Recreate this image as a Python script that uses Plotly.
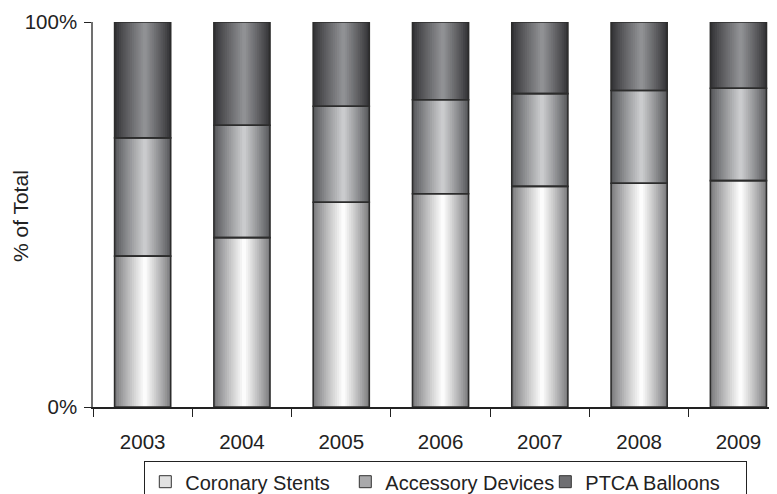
import plotly.graph_objects as go

# ---- data (percent of total) ----
years = ["2003", "2004", "2005", "2006", "2007", "2008", "2009"]
coronary_stents = [39.2, 44.0, 53.2, 55.4, 57.3, 58.1, 58.8]
accessory_devices = [30.7, 29.2, 24.9, 24.4, 24.1, 24.1, 24.0]
ptca_balloons = [30.1, 26.8, 21.9, 20.2, 18.6, 17.8, 17.2]
y_tick_values = [0, 100]
y_tick_labels = ["0%", "100%"]

FONT = "Liberation Sans, Arial, sans-serif"
TXT = "#222222"

# styles: (edge rgb, peak rgb, legend swatch)
styles = {
    "Coronary Stents": ((124, 124, 126), (252, 252, 252), "#e2e2e2"),
    "Accessory Devices": ((88, 89, 92), (202, 203, 205), "#a9a9ab"),
    "PTCA Balloons": ((52, 52, 55), (144, 145, 148), "#6f6f72"),
}

series = [
    ("Coronary Stents", coronary_stents),
    ("Accessory Devices", accessory_devices),
    ("PTCA Balloons", ptca_balloons),
]

# cumulative bases
bases = []
running = [0.0] * len(years)
for _, vals in series:
    bases.append(list(running))
    running = [r + v for r, v in zip(running, vals)]

W = 0.565
N = 14


def mix(e, p, t):
    return "rgb(%d,%d,%d)" % tuple(round(a + (b - a) * t) for a, b in zip(e, p))


fig = go.Figure()

# gradient fill layers
for (name, vals), base in zip(series, bases):
    edge, peak, _ = styles[name]
    for k in range(N):
        frac = k / (N - 1)
        wk = W * (1 - k / N)
        shift = 0.04 * W * (k / N)
        t = frac ** 0.9
        fig.add_trace(go.Bar(
            x=years, y=vals, base=base,
            width=wk, offset=-wk / 2 + shift,
            marker=dict(color=mix(edge, peak, t), line=dict(width=0)),
            showlegend=False, hoverinfo="skip",
        ))

# outlines
for (name, vals), base in zip(series, bases):
    fig.add_trace(go.Bar(
        x=years, y=vals, base=base, width=W, offset=-W / 2,
        marker=dict(color="rgba(0,0,0,0)", line=dict(color="#2c2c2c", width=1.6)),
        showlegend=False, hoverinfo="skip",
    ))

# legend entries
for name, _ in series:
    fig.add_trace(go.Bar(
        x=[None], y=[None], name=name,
        marker=dict(color=styles[name][2], line=dict(color="#333333", width=1)),
        showlegend=True,
    ))

fig.update_layout(
    width=777, height=494,
    margin=dict(l=85, r=0, t=14, b=95, autoexpand=False),
    paper_bgcolor="white", plot_bgcolor="white",
    barmode="overlay",
    font=dict(family=FONT, color=TXT, size=20.5),
    showlegend=True,
    legend=dict(
        orientation="h", x=0.0737, xanchor="left", y=-0.140, yanchor="top",
        bordercolor=TXT, borderwidth=1.3, bgcolor="white",
        font=dict(family=FONT, size=20, color=TXT),
        traceorder="normal", itemwidth=30,
        entrywidth=155, entrywidthmode="pixels",
    ),
    xaxis=dict(
        type="category", range=[-0.5, 6.469],
        showline=True, linecolor=TXT, linewidth=1.5,
        ticks="outside", tickson="boundaries", ticklen=8, tickwidth=1.3, tickcolor=TXT,
        showgrid=False, zeroline=False,
        tickfont=dict(family=FONT, size=20.5, color=TXT),
        ticklabelstandoff=16,
    ),
    yaxis=dict(
        range=[0, 100], tickvals=y_tick_values, ticktext=y_tick_labels,
        ticks="outside", ticklen=7, tickwidth=1.3, tickcolor=TXT,
        showgrid=True, gridcolor=TXT, gridwidth=1.5, zeroline=False,
        showline=True, linecolor="#707070", linewidth=1.5,
        tickfont=dict(family=FONT, size=20.5, color=TXT),
        ticklabelstandoff=3,
    ),
    annotations=[dict(
        text="% of Total", textangle=-90, xref="paper", yref="paper",
        x=-0.1055, y=0.496, xanchor="center", yanchor="middle", showarrow=False,
        font=dict(family=FONT, size=21, color=TXT),
    )],
)

fig.write_html("out.html")
